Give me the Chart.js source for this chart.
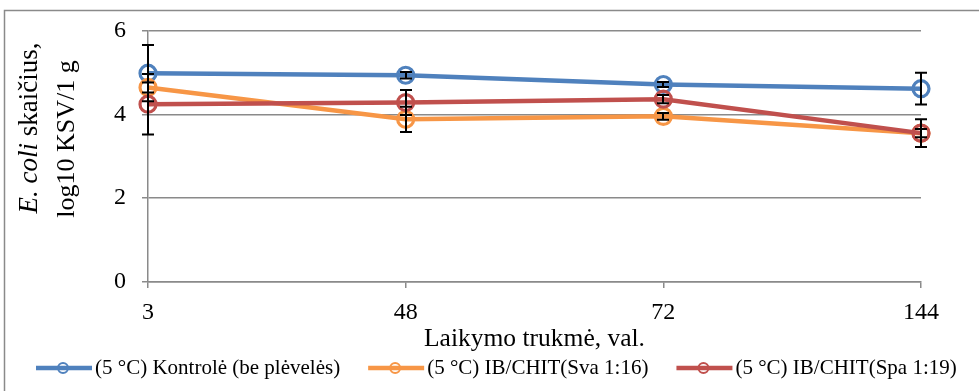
<!DOCTYPE html>
<html>
<head>
<meta charset="utf-8">
<script src="https://cdn.jsdelivr.net/npm/chart.js@4"></script>
<style>
  body { margin: 0; background: white; }
  #wrap { width: 979px; height: 391px; }
</style>
</head>
<body>
<div id="wrap"><canvas id="grafikas" width="979" height="391"></canvas></div>
<script>
const laikas = ["3", "48", "72", "144"];

const kontrole = [4.98, 4.93, 4.71, 4.61];
const sva = [4.64, 3.88, 3.95, 3.55];
const spa = [4.24, 4.28, 4.36, 3.55];

const kontroleErr = [0.67, 0.08, 0.06, 0.38];
const svaErr = [0.12, 0.3, 0.08, 0.1];
const spaErr = [0.72, 0.3, 0.1, 0.33];

const pavadinimai = [
  "(5 °C) Kontrolė (be plėvelės)",
  "(5 °C) IB/CHIT(Sva 1:16)",
  "(5 °C) IB/CHIT(Spa 1:19)"
];
const spalvos = ["#4f81bd", "#f79646", "#c0504d"];
const paklaidos = [kontroleErr, svaErr, spaErr];

const serif = "'Liberation Serif', 'Times New Roman', serif";
const pilka = "#8a8a8a";

function serija(i, data, order) {
  return {
    label: pavadinimai[i],
    data,
    order,
    borderColor: spalvos[i],
    backgroundColor: "transparent",
    borderWidth: 4.5,
    pointRadius: 8,
    pointHoverRadius: 8,
    pointBorderWidth: 3.2,
    pointBackgroundColor: "transparent",
    pointBorderColor: spalvos[i],
    tension: 0
  };
}

const remelis = {
  id: "remelis",
  beforeDraw(chart) {
    const ctx = chart.ctx;
    ctx.save();
    ctx.strokeStyle = pilka;
    ctx.lineWidth = 1.5;
    ctx.strokeRect(4.5, 10.5, 1000, 500);
    ctx.restore();
  }
};

const klaidos = {
  id: "klaidos",
  afterDatasetsDraw(chart) {
    const ctx = chart.ctx;
    const y = chart.scales.y;
    ctx.save();
    ctx.strokeStyle = "#000";
    ctx.lineWidth = 2;
    chart.data.datasets.forEach((ds, d) => {
      const meta = chart.getDatasetMeta(d);
      meta.data.forEach((pt, i) => {
        const v = ds.data[i];
        const e = paklaidos[d][i];
        const x = Math.round(pt.x);
        const y1 = y.getPixelForValue(v + e);
        const y2 = y.getPixelForValue(v - e);
        ctx.beginPath();
        ctx.moveTo(x, y1);
        ctx.lineTo(x, y2);
        ctx.moveTo(x - 6, y1);
        ctx.lineTo(x + 6, y1);
        ctx.moveTo(x - 6, y2);
        ctx.lineTo(x + 6, y2);
        ctx.stroke();
      });
    });
    ctx.restore();
  }
};

const tekstai = {
  id: "tekstai",
  afterDraw(chart) {
    const ctx = chart.ctx;
    ctx.save();

    // y asies pavadinimas su kursyvu
    ctx.fillStyle = "#000";
    ctx.textBaseline = "middle";
    ctx.translate(30, 128);
    ctx.rotate(-Math.PI / 2);
    const it = "italic 27px " + serif;
    const rg = "27px " + serif;
    ctx.font = it;
    const w1 = ctx.measureText("E. coli").width;
    ctx.font = rg;
    const w2 = ctx.measureText(" skaičius,").width;
    let x = -(w1 + w2) / 2;
    ctx.font = it;
    ctx.fillText("E. coli", x, 0);
    ctx.font = rg;
    ctx.fillText(" skaičius,", x + w1, 0);
    ctx.restore();

    ctx.save();
    ctx.fillStyle = "#000";
    ctx.textBaseline = "middle";
    ctx.textAlign = "center";
    ctx.translate(67, 139);
    ctx.rotate(-Math.PI / 2);
    ctx.font = "26px " + serif;
    ctx.fillText("log10 KSV/1 g", 0, 0);
    ctx.restore();

    // legenda
    ctx.save();
    ctx.font = "21px " + serif;
    ctx.textBaseline = "middle";
    let lx = 36;
    const ly = 368;
    pavadinimai.forEach((p, i) => {
      ctx.strokeStyle = spalvos[i];
      ctx.lineWidth = 4.5;
      ctx.beginPath();
      ctx.moveTo(lx, ly);
      ctx.lineTo(lx + 56, ly);
      ctx.stroke();
      ctx.lineWidth = 2;
      ctx.beginPath();
      ctx.arc(lx + 27, ly, 5, 0, Math.PI * 2);
      ctx.stroke();
      ctx.fillStyle = "#000";
      ctx.fillText(p, lx + 59, ly);
      lx += 59 + ctx.measureText(p).width + 28;
    });
    ctx.restore();
  }
};

new Chart(document.getElementById("grafikas"), {
  type: "line",
  data: {
    labels: laikas,
    datasets: [
      serija(0, kontrole, 3),
      serija(1, sva, 2),
      serija(2, spa, 1)
    ]
  },
  options: {
    responsive: false,
    animation: false,
    layout: { padding: { top: 30, right: 58, bottom: 37, left: 0 } },
    plugins: {
      legend: { display: false },
      tooltip: { enabled: false }
    },
    scales: {
      x: {
        offset: false,
        afterFit(s) { s.height = 72; },
        grid: {
          drawOnChartArea: false,
          drawTicks: true,
          tickLength: 6,
          color: pilka,
          lineWidth: 1.5
        },
        border: { color: pilka, width: 1.5 },
        ticks: {
          color: "#000",
          padding: 10,
          maxRotation: 0,
          font: { family: serif, size: 24 }
        },
        title: {
          display: true,
          text: "Laikymo trukmė, val.",
          color: "#000",
          padding: { top: 0, bottom: -1 },
          font: { family: serif, size: 25.5 }
        }
      },
      y: {
        min: 0,
        max: 6,
        afterFit(s) { s.width = 148; },
        grid: {
          color: pilka,
          lineWidth: 1.5,
          tickLength: 6
        },
        border: { color: pilka, width: 1.5 },
        ticks: {
          stepSize: 2,
          color: "#000",
          padding: 16,
          font: { family: serif, size: 24 }
        }
      }
    }
  },
  plugins: [remelis, klaidos, tekstai]
});
</script>
</body>
</html>
